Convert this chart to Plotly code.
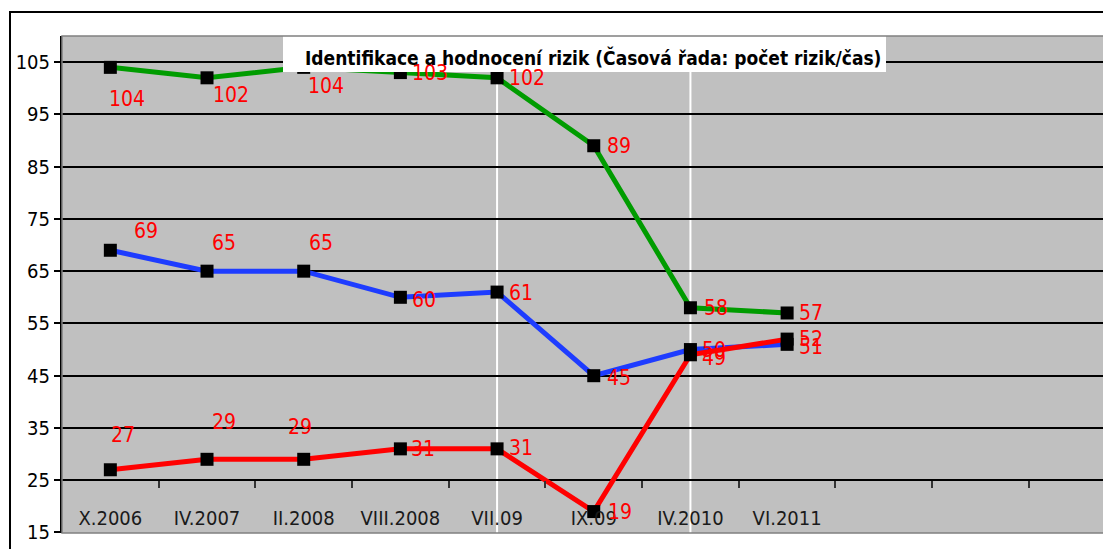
import plotly.graph_objects as go

categories = ["X.2006", "IV.2007", "II.2008", "VIII.2008", "VII.09", "IX.09", "IV.2010", "VI.2011"]
series_green = [104, 102, 104, 103, 102, 89, 58, 57]
series_blue = [69, 65, 65, 60, 61, 45, 50, 51]
series_red = [27, 29, 29, 31, 31, 19, 49, 52]
y_ticks = [15, 25, 35, 45, 55, 65, 75, 85, 95, 105]
title_text = "Identifikace a hodnocení rizik (Časová řada: počet rizik/čas)"
highlight_cats = ["VII.09", "IV.2010"]

# label offsets (pixels) for the data labels
off_green = [(17, -32), (24, -17), (22, -19), (30, 0), (30, 0), (25, 0), (26, 0), (24, 0)]
off_blue = [(36, 19), (17, 28), (17, 28), (24, -3), (24, -1), (25, -2), (24, 0), (24, -3)]
off_red = [(13, 35), (17, 37), (-4, 32), (23, 0), (24, 1), (26, 0), (24, -3), (24, 0)]

FONT = "Liberation Sans Narrow, Arial Narrow, DejaVu Sans Condensed, sans-serif"
YMIN, YMAX = 14.9, 110
XR = [-0.5, 10.35]

fig = go.Figure()
for vals, col in [(series_green, "#009c00"), (series_blue, "#1e3cff"), (series_red, "#ff0000")]:
    fig.add_trace(go.Scatter(
        x=categories, y=vals, mode="lines+markers",
        line=dict(color=col, width=5),
        marker=dict(symbol="square", size=13, color="black"),
        showlegend=False, hoverinfo="skip"))

# invisible trace to carry the tick-mark axis
fig.add_trace(go.Scatter(x=[0], y=[YMIN - 10], xaxis="x2", mode="markers",
                         marker=dict(opacity=0), showlegend=False, hoverinfo="skip"))

annotations = []
for vals, offs in [(series_green, off_green), (series_blue, off_blue), (series_red, off_red)]:
    for c, v, (dx, dy) in zip(categories, vals, offs):
        annotations.append(dict(x=c, y=v, xref="x", yref="y", text=str(v), showarrow=False,
                                xshift=dx, yshift=dy,
                                font=dict(family=FONT, size=21, color="#ff0000")))

# title
annotations.append(dict(x=(593 - 62) / 1049, y=(533 - 44) / 497, xref="paper", yref="paper",
                        text="<b>" + title_text + "</b>", showarrow=False,
                        font=dict(family=FONT, size=19, color="black")))

shapes = []
for hc in highlight_cats:
    shapes.append(dict(type="line", xref="x", yref="paper", x0=hc, x1=hc, y0=0, y1=1,
                       line=dict(color="white", width=2), layer="between"))
# title box
shapes.append(dict(type="rect", xref="paper", yref="paper",
                   x0=(283 - 62) / 1049, x1=(886 - 62) / 1049,
                   y0=(533 - 72) / 497, y1=(533 - 22) / 497,
                   fillcolor="white", line=dict(width=0), layer="above"))
# plot border (top/bottom gray)
shapes.append(dict(type="rect", xref="paper", yref="paper", x0=0, x1=1.2, y0=0, y1=1,
                   line=dict(color="#808080", width=1.5), layer="above"))
# outer chart border
shapes.append(dict(type="rect", xref="paper", yref="paper",
                   x0=(10 - 62) / 1049, x1=1.2, y0=-0.2, y1=(533 - 12) / 497,
                   line=dict(color="black", width=2)))

fig.update_layout(
    width=1103, height=541,
    margin=dict(l=54, r=0, t=28, b=16, autoexpand=False),
    paper_bgcolor="white", plot_bgcolor="#c0c0c0",
    annotations=annotations, shapes=shapes,
    xaxis=dict(type="category", categoryorder="array", categoryarray=categories,
               range=XR, showgrid=False, zeroline=False, showline=False, automargin=False,
               ticks="", ticklabelstandoff=-29,
               tickfont=dict(family=FONT, size=20, color="#1a1a1a")),
    xaxis2=dict(overlaying="x", anchor="free", position=(25 - YMIN) / (YMAX - YMIN),
                side="bottom", range=XR, showgrid=False, zeroline=False, showline=False,
                automargin=False,
                tickvals=[0.5 + i for i in range(10)], ticks="outside", ticklen=7,
                tickwidth=2, tickcolor="#333333", showticklabels=False),
    yaxis=dict(range=[YMIN, YMAX], tickvals=y_ticks, showgrid=True, gridcolor="black",
               gridwidth=2, zeroline=False, showline=True, linecolor="black", linewidth=2,
               automargin=False,
               ticks="outside", ticklen=6, tickwidth=2, tickcolor="black",
               tickfont=dict(family=FONT, size=20, color="black")),
)

fig.write_html("out.html")
